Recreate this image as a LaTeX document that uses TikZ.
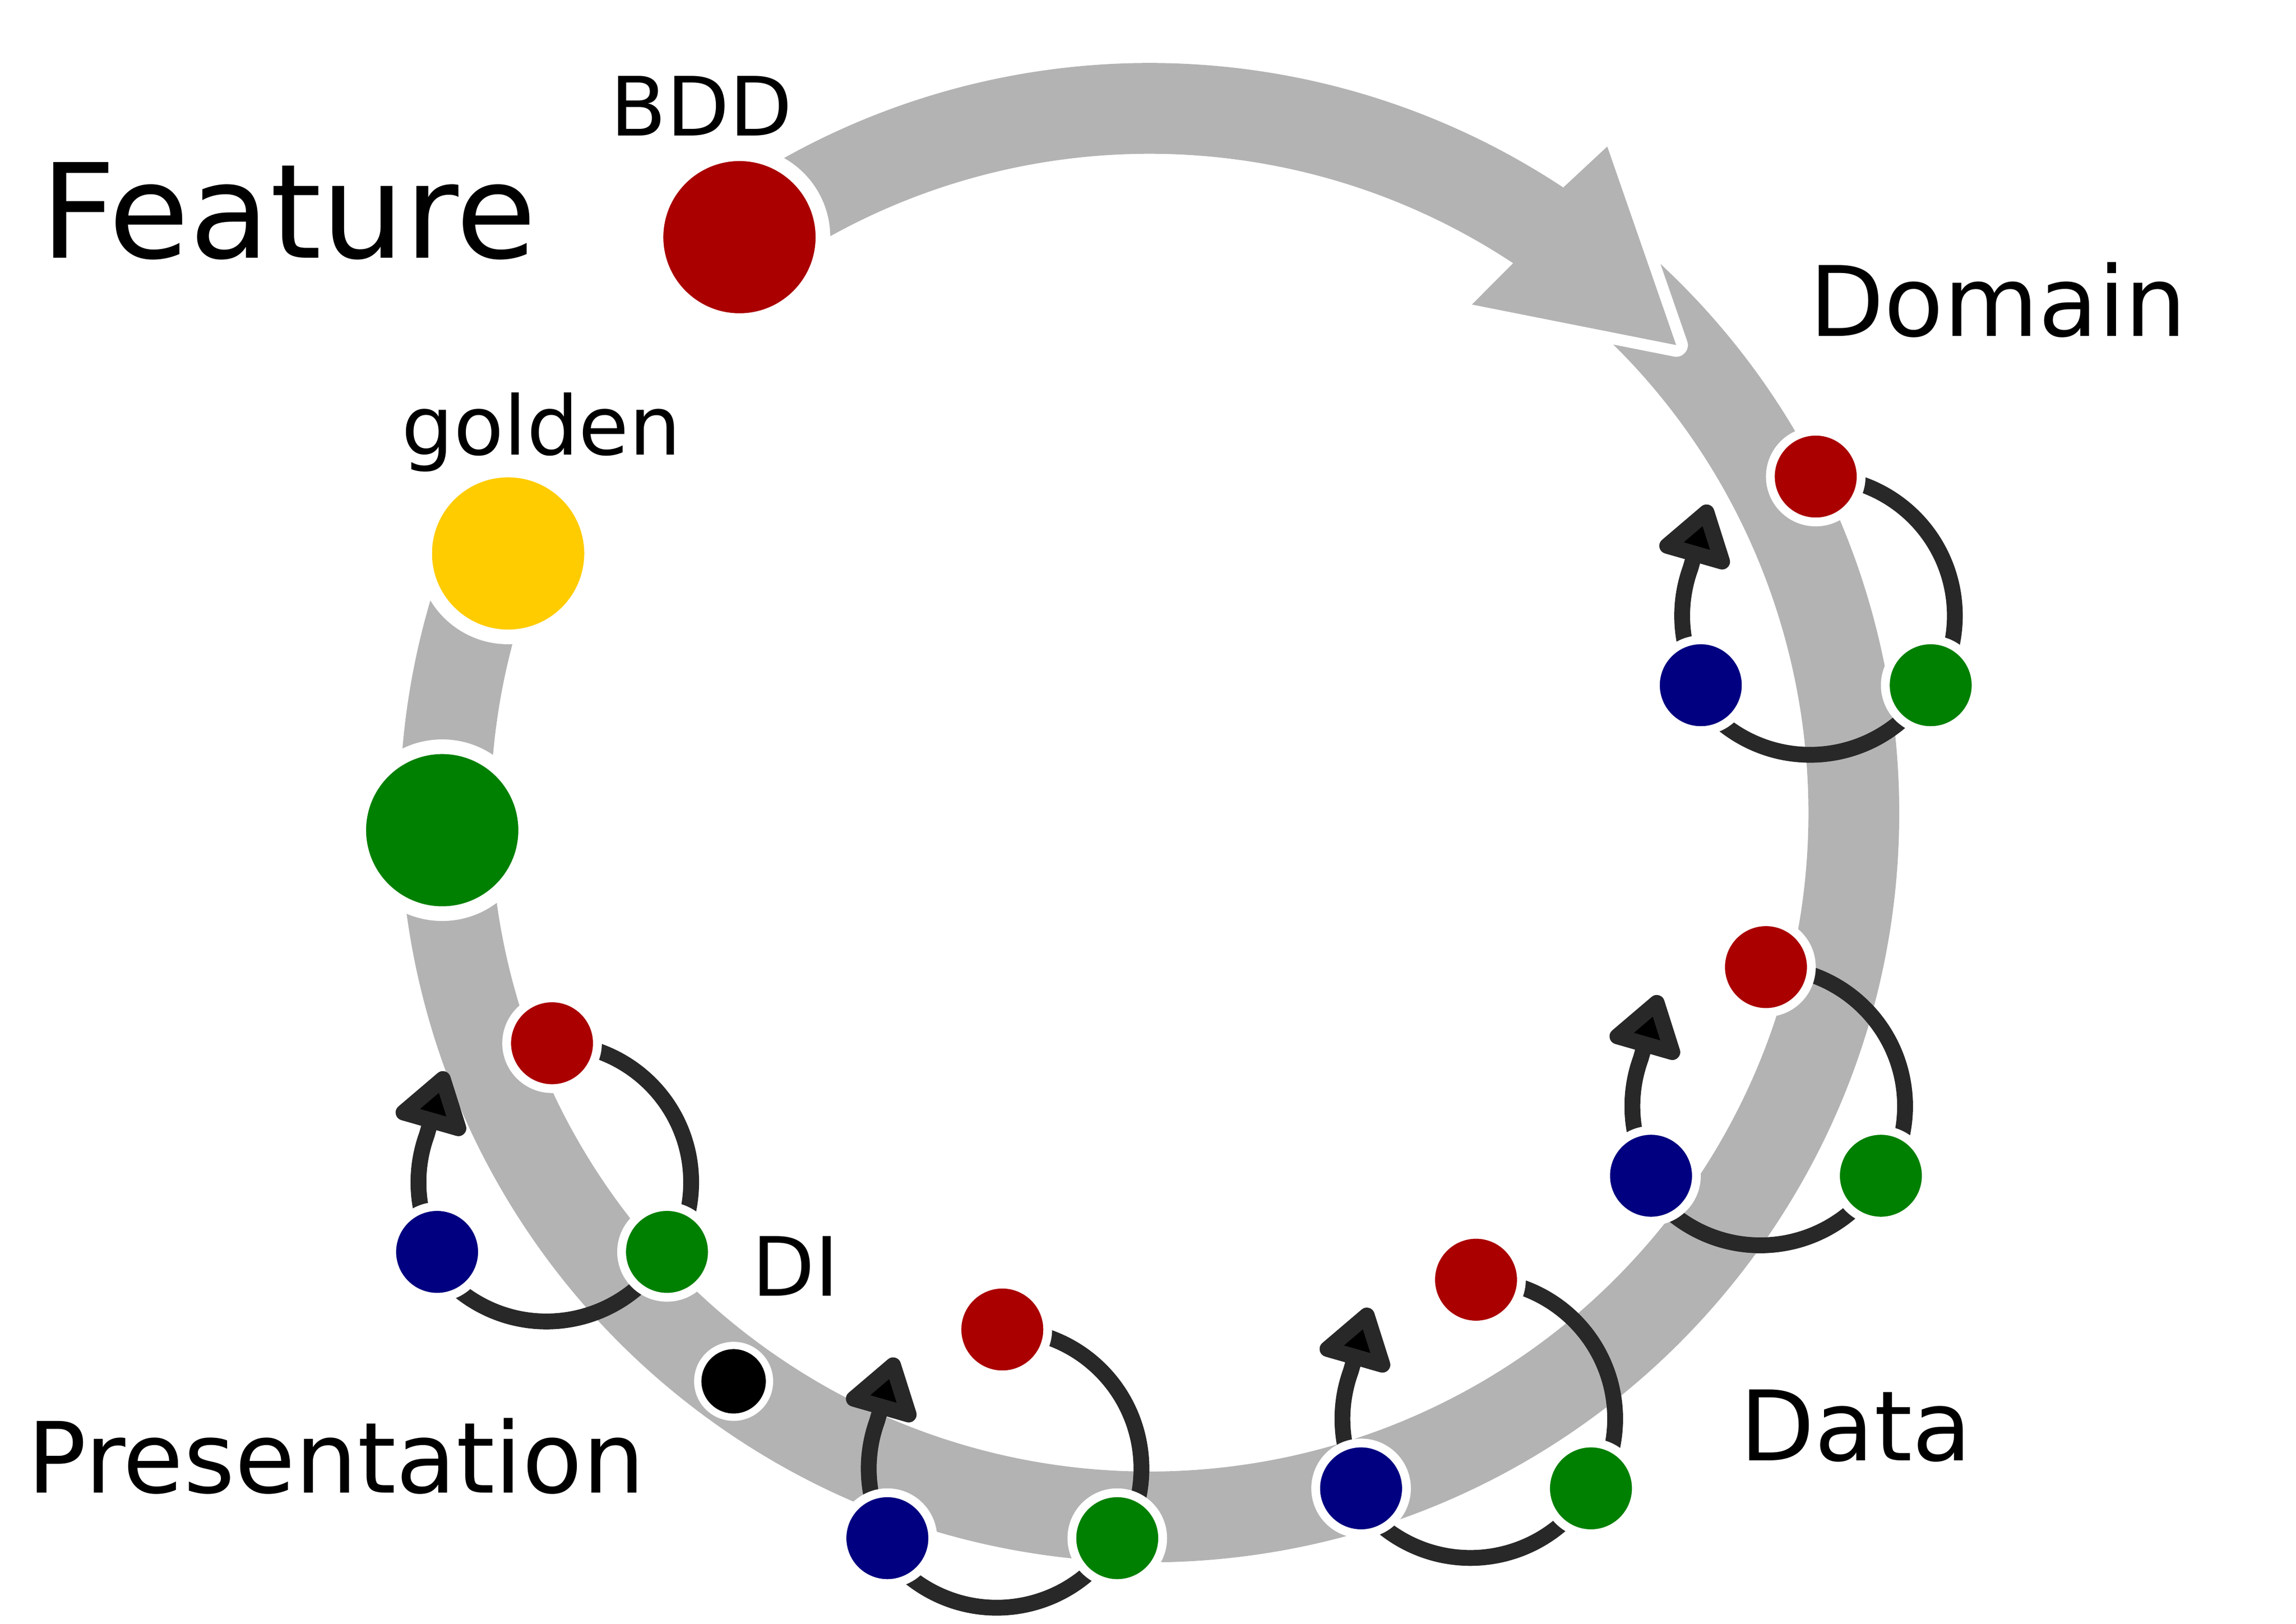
\documentclass[tikz,border=0pt]{standalone}
\usepackage{fontspec}
\setmainfont{DejaVu Sans}
\usepackage{xcolor}
\usetikzlibrary{arrows.meta,backgrounds}

\definecolor{dotred}{HTML}{AA0000}
\definecolor{dotblue}{HTML}{000080}
\definecolor{dotgreen}{HTML}{008000}
\definecolor{dotgold}{HTML}{FFCC00}
\definecolor{ringgray}{HTML}{B3B3B3}
\definecolor{loopgray}{HTML}{282828}

\tikzset{
  ring/.style={draw=ringgray, line width=0.62cm},
  bigdot/.style={circle, inner sep=0pt, minimum size=1.14cm, draw=white, line width=0.1cm},
  smalldot/.style={circle, inner sep=0pt, minimum size=0.62cm, draw=white, line width=0.06cm},
  loopline/.style={draw=loopgray, line width=0.108cm},
  looparrow/.style={loopline, -{Triangle[length=0.45cm, width=0.56cm, fill=black, round]}},
  txt/.style={inner sep=0pt, anchor=base},
}

\begin{document}
\begin{tikzpicture}
\useasboundingbox (0,0) rectangle (15.68,11.09);

% big dots
\node[bigdot, fill=dotred] (bdd) at (5.05,9.47) {};
\node[bigdot, fill=dotgold] (golden) at (3.47,7.31) {};
\node[bigdot, fill=dotgreen] (green) at (3.02,5.42) {};
\node[smalldot, minimum size=0.49cm, line width=0.05cm, fill=black] (di) at (5.01,1.656) {};

% Domain loop
\node[smalldot, fill=dotred] (r1) at (12.40,7.835) {};
\node[smalldot, fill=dotblue] (b1) at (11.615,6.41) {};
\node[smalldot, fill=dotgreen] (g1) at (13.185,6.41) {};
% second loop
\node[smalldot, fill=dotred] (r2) at (12.06,4.485) {};
\node[smalldot, fill=dotblue] (b2) at (11.275,3.06) {};
\node[smalldot, fill=dotgreen] (g2) at (12.845,3.06) {};
% Data loop
\node[smalldot, fill=dotred] (r3) at (10.08,2.35) {};
\node[smalldot, fill=dotblue] (b3) at (9.295,0.925) {};
\node[smalldot, fill=dotgreen] (g3) at (10.865,0.925) {};
% bottom loop
\node[smalldot, fill=dotred] (r4) at (6.845,2.01) {};
\node[smalldot, fill=dotblue] (b4) at (6.06,0.585) {};
\node[smalldot, fill=dotgreen] (g4) at (7.63,0.585) {};
% Presentation loop
\node[smalldot, fill=dotred] (r5) at (3.77,3.965) {};
\node[smalldot, fill=dotblue] (b5) at (2.985,2.54) {};
\node[smalldot, fill=dotgreen] (g5) at (4.555,2.54) {};

% labels
\node[txt, font=\fontsize{25.5}{30}\selectfont] (feature) at (1.97,9.327) {Feature};
\node[txt, font=\fontsize{15.9}{19}\selectfont] (bddtext) at (4.79,10.163) {BDD};
\node[txt, font=\fontsize{15.9}{19}\selectfont] (goldentext) at (3.697,7.982) {golden};
\node[txt, font=\fontsize{15.9}{19}\selectfont] (ditext) at (5.431,2.238) {DI};
\node[txt, font=\fontsize{18.9}{22}\selectfont] (domain) at (13.645,8.792) {Domain};
\node[txt, font=\fontsize{18.9}{22}\selectfont] (data) at (12.674,1.115) {Data};
\node[txt, font=\fontsize{19.1}{22}\selectfont] (presentation) at (2.295,0.894) {Presentation};

\begin{scope}[on background layer]
\begin{scope}[shift={(7.85,5.54)}]
\draw[ring] (52:4.81) arc[start angle=52, end angle=-203, radius=4.81];
\fill[ringgray, preaction={draw=white, line width=0.16cm, line join=round}]
  (125.5:5.12) arc[start angle=125.5, end angle=56.5, radius=5.12]
  -- (55.5:5.52) -- (41.6:4.81) -- (57.6:4.11) -- (56.5:4.5)
  arc[start angle=56.5, end angle=125.5, radius=4.5] -- cycle;
\end{scope}

\draw[loopline] (r1.center) arc[start angle=90, end angle=-30, radius=0.95];
\draw[loopline] (g1.center) arc[start angle=-30, end angle=-150, radius=0.95];
\draw[looparrow] (b1.center) arc[start angle=210, end angle=160, radius=0.95] -- ++(74:0.45);

\draw[loopline] (r2.center) arc[start angle=90, end angle=-30, radius=0.95];
\draw[loopline] (g2.center) arc[start angle=-30, end angle=-150, radius=0.95];
\draw[looparrow] (b2.center) arc[start angle=210, end angle=160, radius=0.95] -- ++(74:0.45);

\draw[loopline] (r3.center) arc[start angle=90, end angle=-30, radius=0.95];
\draw[loopline] (g3.center) arc[start angle=-30, end angle=-150, radius=0.95];
\draw[looparrow] (b3.center) arc[start angle=210, end angle=160, radius=0.95] -- ++(74:0.45);

\draw[loopline] (r4.center) arc[start angle=90, end angle=-30, radius=0.95];
\draw[loopline] (g4.center) arc[start angle=-30, end angle=-150, radius=0.95];
\draw[looparrow] (b4.center) arc[start angle=210, end angle=160, radius=0.95] -- ++(74:0.45);

\draw[loopline] (r5.center) arc[start angle=90, end angle=-30, radius=0.95];
\draw[loopline] (g5.center) arc[start angle=-30, end angle=-150, radius=0.95];
\draw[looparrow] (b5.center) arc[start angle=210, end angle=160, radius=0.95] -- ++(74:0.45);
\end{scope}
\end{tikzpicture}
\end{document}
